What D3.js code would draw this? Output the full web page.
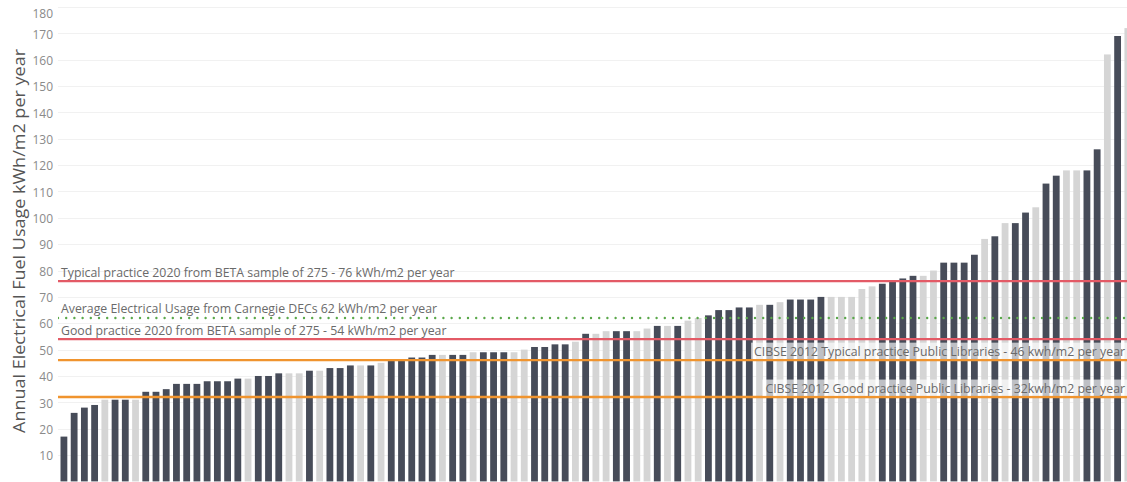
<!DOCTYPE html>
<html>
<head>
<meta charset="utf-8">
<script src="https://cdn.jsdelivr.net/npm/d3@7"></script>
<style>
  html, body { margin: 0; padding: 0; background: #ffffff; }
  svg { display: block; }
</style>
</head>
<body>
<svg id="chart" width="1127" height="482"></svg>
<script>
// ---- data ----
const buildings = d3.range(1, 106).map(i => "B" + i);
const usage = [
  17, 26, 28, 29, 31, 31, 31, 31, 34, 34,
  35, 37, 37, 37, 38, 38, 38, 39, 39, 40,
  40, 41, 41, 41, 42, 42, 43, 43, 44, 44,
  44, 45, 46, 46, 47, 47, 48, 48, 48, 48,
  49, 49, 49, 49, 49, 50, 51, 51, 52, 52,
  53, 56, 56, 57, 57, 57, 57, 58, 59, 59,
  59, 61, 62, 63, 65, 65, 66, 66, 67, 67,
  68, 69, 69, 69, 70, 70, 70, 70, 73, 74,
  75, 76, 77, 78, 78, 80, 83, 83, 83, 86,
  92, 93, 98, 98, 102, 104, 113, 116, 118, 118,
  118, 126, 162, 169, 172
];
// "D" = dark bar, "L" = light bar
const shade = [
  "D","D","D","D","L","D","D","L","D","D",
  "D","D","D","D","D","D","D","D","L","D",
  "D","D","L","L","D","L","D","D","D","L",
  "D","L","D","D","D","D","D","L","D","D",
  "L","D","D","D","L","L","D","D","D","D",
  "L","D","L","L","D","D","L","L","D","L",
  "D","L","L","D","D","D","D","D","L","D",
  "L","D","D","D","D","L","L","L","L","L",
  "D","D","D","D","L","L","D","D","D","D",
  "L","D","L","D","D","L","D","D","L","L",
  "D","D","L","D","L"
];
const yTicks = [10, 20, 30, 40, 50, 60, 70, 80, 90, 100, 110, 120, 130, 140, 150, 160, 170, 180];
const refValues = [76, 62, 54, 46, 32];
const refLabels = [
  "Typical practice 2020 from BETA sample of 275 - 76 kWh/m2 per year",
  "Average Electrical Usage from Carnegie DECs 62 kWh/m2 per year",
  "Good practice 2020 from BETA sample of 275 - 54 kWh/m2 per year",
  "CIBSE 2012 Typical practice Public Libraries - 46 kwh/m2 per year",
  "CIBSE 2012 Good practice Public Libraries - 32kwh/m2 per year"
];
const refKinds = ["red", "green", "red", "orange", "orange"];
const refAlign = ["left", "left", "left", "right", "right"];
const yTitle = "Annual Electrical Fuel Usage kWh/m2 per year";

// ---- styles ----
const colors = { D: "#474c59", L: "#d5d5d5" };
const lineColors = { red: "#e35a66", green: "#5aa84a", orange: "#f0942e" };
const FONT = "'Open Sans', Lato, sans-serif";

const svg = d3.select("#chart");
const W = 1127, H = 482;
const plotLeft = 58, plotRight = 1127;

const x = d3.scaleBand()
  .domain(buildings)
  .range([58.8, 58.8 + 105 * 10.23])
  .paddingInner(0.335)
  .paddingOuter(0.1675);

const y = d3.scaleLinear().domain([0, 180]).range([481.4, 7]);

const defs = svg.append("defs");
defs.append("clipPath").attr("id", "plotclip")
  .append("rect").attr("x", plotLeft).attr("y", 0).attr("width", plotRight - plotLeft).attr("height", H);

// gridlines
svg.append("g").selectAll("line").data(yTicks).join("line")
  .attr("x1", plotLeft).attr("x2", plotRight)
  .attr("y1", d => Math.round(y(d)) + 0.5).attr("y2", d => Math.round(y(d)) + 0.5)
  .attr("stroke", "#f1f1f1").attr("stroke-width", 1);

// tick labels
svg.append("g").selectAll("text").data(yTicks).join("text")
  .attr("x", 53)
  .attr("y", d => Math.max(y(d) + 2, 15))
  .attr("text-anchor", "end")
  .attr("dominant-baseline", "middle")
  .attr("font-family", FONT)
  .attr("font-size", 12)
  .attr("fill", "#8a8a8a")
  .text(d => d);

// axis title
svg.append("text")
  .attr("transform", "translate(25,241) rotate(-90)")
  .attr("text-anchor", "middle")
  .attr("font-family", FONT)
  .attr("font-size", 15.6)
  .attr("textLength", 384)
  .attr("lengthAdjust", "spacingAndGlyphs")
  .attr("fill", "#555555")
  .text(yTitle);

// bars
const gBars = svg.append("g").attr("clip-path", "url(#plotclip)");
gBars.selectAll("rect").data(usage).join("rect")
  .attr("x", (d, i) => x(buildings[i]))
  .attr("width", x.bandwidth())
  .attr("y", d => y(d))
  .attr("height", d => y(0) - y(d))
  .attr("fill", (d, i) => colors[shade[i]]);

// reference lines + labels
const gRef = svg.append("g").attr("clip-path", "url(#plotclip)");
const LBL = 12.3;
refValues.forEach((v, i) => {
  const yy = y(v);
  const kind = refKinds[i];
  const ln = gRef.append("line")
    .attr("x1", plotLeft).attr("x2", plotRight)
    .attr("y1", yy).attr("y2", yy)
    .attr("stroke", lineColors[kind]);
  if (kind === "green") {
    ln.attr("stroke-width", 2.4).attr("stroke-dasharray", "0,8.2").attr("stroke-linecap", "round");
  } else {
    ln.attr("stroke-width", 2.4);
  }
  if (refAlign[i] === "left") {
    gRef.append("text")
      .attr("x", 61).attr("y", yy - 4.5)
      .attr("font-family", FONT).attr("font-size", LBL)
      .attr("fill", "#6a6a6a")
      .text(refLabels[i]);
  } else {
    const t = gRef.append("text")
      .attr("x", 1125).attr("y", yy - 4.5)
      .attr("text-anchor", "end")
      .attr("font-family", FONT).attr("font-size", LBL)
      .attr("fill", "#6a6a6a")
      .text(refLabels[i]);
    const bb = t.node().getBBox();
    gRef.insert("rect", function() { return t.node(); })
      .attr("x", bb.x - 3).attr("y", bb.y)
      .attr("width", bb.width + 6).attr("height", yy - 1.2 - bb.y)
      .attr("fill", "#ffffff").attr("fill-opacity", 0.65);
  }
});
</script>
</body>
</html>
